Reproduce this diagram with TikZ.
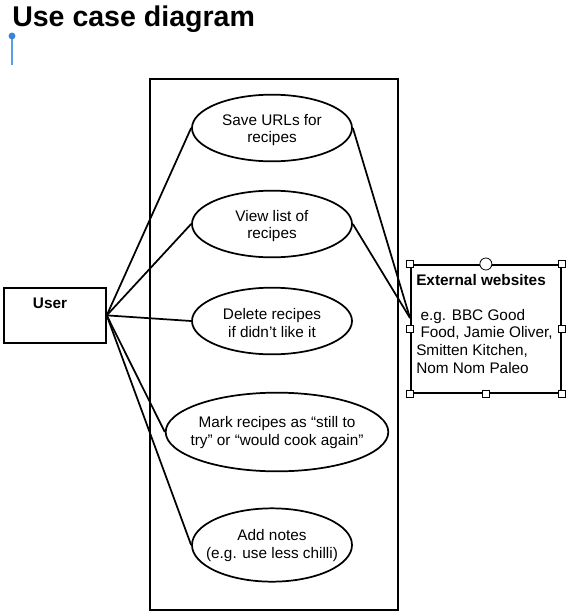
\documentclass[tikz,border=0pt]{standalone}
\usepackage{fontspec}
\setmainfont{Liberation Sans}
\usetikzlibrary{shapes.geometric}
\begin{document}
\begin{tikzpicture}[x=0.75pt,y=-0.75pt,
  every node/.style={font=\fontsize{11.5}{13}\selectfont},
  usecase/.style={draw,line width=1.3pt,ellipse,inner sep=0pt,minimum width=120pt,minimum height=50pt},
  uctext/.style={align=center,inner sep=0pt},
  bigbox/.style={draw,line width=1.3pt,inner sep=0pt},
  conn/.style={line width=1.3pt},
  handle/.style={draw,fill=white,line width=0.6pt,inner sep=0pt,minimum size=5pt},
  roundhandle/.style={draw,fill=white,line width=0.6pt,circle,inner sep=0pt,minimum size=9pt}]
\useasboundingbox (0,0) rectangle (567,615);
% title
\node[anchor=base west,inner sep=0pt,font=\fontsize{21.4}{24}\bfseries] (title) at (12,26) {Use case diagram};
\coordinate (blueTop) at (12,36);
\coordinate (blueBot) at (12,65);
\draw[color={rgb,255:red,90;green,160;blue,230},line width=1pt] (blueTop) -- (blueBot);
\fill[color={rgb,255:red,60;green,130;blue,220}] (blueTop) circle (2.6pt);
% system boundary
\node[bigbox,minimum width=186pt,minimum height=398.25pt,anchor=north west] (sys) at (149,78) {};
% use cases
\node[usecase] (e1) at (272,128) {};
\node[uctext] (e1t) at ([yshift=-1.5pt]e1.center) {Save URLs for\\recipes};
\node[usecase] (e2) at (272,224) {};
\node[uctext] (e2t) at ([yshift=-1.5pt]e2.center) {View list of\\recipes};
\node[usecase] (e3) at (272,321) {};
\node[uctext] (e3t) at ([yshift=-1.5pt]e3.center) {Delete recipes\\if didn't like it};
\node[usecase,minimum width=167pt,minimum height=59pt] (e4) at (277,432) {};
\node[uctext] (e4t) at ([yshift=-0.5pt]e4.center) {Mark recipes as “still to\\try” or “would cook again”};
\node[usecase,minimum height=55pt] (e5) at (272,545) {};
\node[uctext] (e5t) at ([yshift=-0.5pt]e5.center) {Add notes\\(e.g. use less chilli)};
% user
\node[bigbox,minimum width=76.5pt,minimum height=41.25pt,anchor=north west] (user) at (3,287) {};
\node[font=\fontsize{11.5}{13}\selectfont\bfseries,anchor=base] (userlbl) at (50,308) {User};
% external
\node[draw,line width=1.3pt,inner sep=0pt,minimum width=112.5pt,minimum height=96pt,anchor=north west] (ext) at (410,264) {};
\node[anchor=north west,inner sep=0pt,align=left,font=\fontsize{11.5}{13.2}\selectfont] (extlbl) at (416,274)
  {\textbf{External websites}\\[13pt]\ e.g. BBC Good\\\ Food, Jamie Oliver,\\Smitten Kitchen,\\Nom Nom Paleo};
% connectors
\coordinate (extin) at (410,318);
\draw[conn] (user.east) -- (e1.west);
\draw[conn] (user.east) -- (e2.west);
\draw[conn] (user.east) -- (e3.west);
\draw[conn] (user.east) -- (e4.west);
\draw[conn] (user.east) -- (e5.west);
\draw[conn] (e1.east) -- (extin);
\draw[conn] (e2.east) -- (extin);
% handles
\foreach \p in {north west,north east,south west,south east,west,east,south}
  \node[handle] at (ext.\p) {};
\node[roundhandle] (exttop) at (ext.north) {};
\end{tikzpicture}
\end{document}
